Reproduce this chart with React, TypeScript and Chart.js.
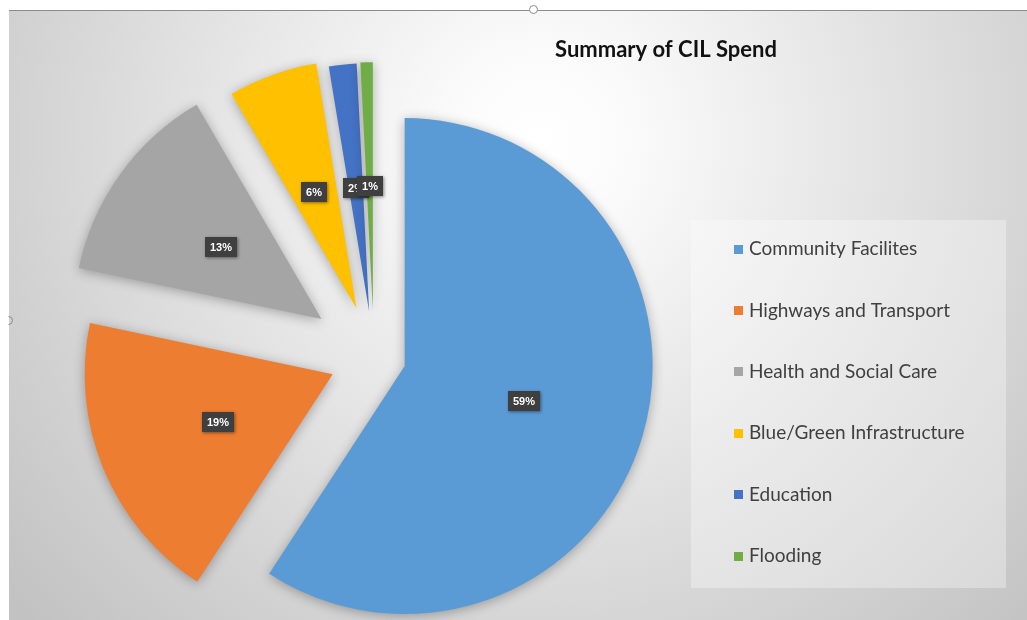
import React, { useEffect, useRef } from 'react';
import { Chart, registerables } from 'chart.js';

Chart.register(...registerables);

// ---- data ----
const categories = [
  'Community Facilites',
  'Highways and Transport',
  'Health and Social Care',
  'Blue/Green Infrastructure',
  'Education',
  'Flooding',
];
const spendShare = [59.2, 19.1, 13.3, 5.8, 1.8, 0.8];
const sliceColors = ['#5B9BD5', '#ED7D31', '#A5A5A5', '#FFC000', '#4472C4', '#70AD47'];
const explodeOffsets = [128, 179, 259, 207, 184, 187];
const chartTitle = 'Summary of CIL Spend';

const RADIUS = 248;

const backdrop = {
  id: 'backdrop',
  beforeDraw(chart: any) {
    const { ctx, width, height } = chart;
    ctx.save();
    ctx.fillStyle = '#ffffff';
    ctx.fillRect(0, 0, width, height);
    const g = ctx.createRadialGradient(540, 140, 0, 540, 140, 700);
    g.addColorStop(0, '#ffffff');
    g.addColorStop(0.12, '#fbfbfb');
    g.addColorStop(1, '#c2c2c2');
    ctx.fillStyle = g;
    ctx.fillRect(9, 10, width - 9, height - 10);
    ctx.strokeStyle = '#8c8c8c';
    ctx.lineWidth = 1;
    ctx.beginPath();
    ctx.moveTo(9, 10.5);
    ctx.lineTo(width, 10.5);
    ctx.stroke();
    // legend panel
    ctx.fillStyle = 'rgba(255,255,255,0.32)';
    ctx.fillRect(691, 220, 315, 368);
    // title
    ctx.fillStyle = '#111111';
    ctx.font = 'bold 22px Lato';
    ctx.textAlign = 'center';
    ctx.textBaseline = 'middle';
    ctx.fillText(chartTitle, 666, 50);
    // legend entries
    ctx.font = '19px Lato';
    ctx.textAlign = 'left';
    categories.forEach((c, i) => {
      const y = 249 + i * 61.4;
      ctx.fillStyle = sliceColors[i];
      ctx.fillRect(734, Math.round(y - 4.5), 9, 9);
      ctx.fillStyle = '#404040';
      ctx.fillText(c, 749, y);
    });
    ctx.restore();
  },
  afterDraw(chart: any) {
    const { ctx } = chart;
    ctx.save();
    ctx.fillStyle = '#ffffff';
    ctx.strokeStyle = '#8c8c8c';
    ctx.lineWidth = 1;
    ctx.beginPath();
    ctx.arc(533.5, 9.5, 4, 0, Math.PI * 2);
    ctx.fill();
    ctx.stroke();
    ctx.beginPath();
    ctx.arc(8.5, 320.5, 4, -Math.PI / 2, Math.PI / 2);
    ctx.stroke();
    ctx.restore();
  },
};

// Apply each slice's explode offset as a pure translation (Excel style),
// keeping every slice at the same radius and full angle.
const explodeSlices = {
  id: 'explodeSlices',
  afterUpdate(chart: any) {
    const meta = chart.getDatasetMeta(0);
    meta.data.forEach((el: any) => {
      const shift = ((el.options && el.options.offset) || 0) / 4;
      const mid = (el.startAngle + el.endAngle) / 2;
      el.x = el.x + Math.cos(mid) * shift;
      el.y = el.y + Math.sin(mid) * shift;
      el.outerRadius = RADIUS;
      el.options = { ...el.options, offset: 0 };
    });
  },
};

const sliceShadow = {
  id: 'sliceShadow',
  beforeDatasetsDraw(chart: any) {
    const ctx = chart.ctx;
    ctx.save();
    ctx.shadowColor = 'rgba(0,0,0,0.3)';
    ctx.shadowBlur = 12;
    ctx.shadowOffsetX = 0;
    ctx.shadowOffsetY = 2;
  },
  afterDatasetsDraw(chart: any) {
    chart.ctx.restore();
  },
};

const pctLabels = {
  id: 'pctLabels',
  afterDatasetsDraw(chart: any) {
    const { ctx } = chart;
    const meta = chart.getDatasetMeta(0);
    const values: number[] = chart.data.datasets[0].data;
    const total = values.reduce((a, b) => a + b, 0);
    ctx.save();
    ctx.font = 'bold 11px "Liberation Sans"';
    ctx.textAlign = 'center';
    ctx.textBaseline = 'middle';
    meta.data.forEach((el: any, i: number) => {
      const mid = (el.startAngle + el.endAngle) / 2;
      const shift = RADIUS * 0.5;
      const x = el.x + Math.cos(mid) * shift;
      const y = el.y + Math.sin(mid) * shift;
      const text = Math.round((values[i] / total) * 100) + '%';
      const w = Math.round(ctx.measureText(text).width + 10);
      const h = 20;
      ctx.shadowColor = 'rgba(0,0,0,0.45)';
      ctx.shadowBlur = 3;
      ctx.shadowOffsetX = 1;
      ctx.shadowOffsetY = 1;
      ctx.fillStyle = '#3f3f3f';
      ctx.fillRect(Math.round(x - w / 2), Math.round(y - h / 2), w, h);
      ctx.shadowColor = 'transparent';
      ctx.shadowBlur = 0;
      ctx.shadowOffsetX = 0;
      ctx.shadowOffsetY = 0;
      ctx.fillStyle = '#ffffff';
      ctx.fillText(text, Math.round(x), Math.round(y) + 0.5);
    });
    ctx.restore();
  },
};

export default function App() {
  const canvasRef = useRef<HTMLCanvasElement | null>(null);

  useEffect(() => {
    if (!canvasRef.current) return;
    const chart = new Chart(canvasRef.current, {
      type: 'pie',
      data: {
        labels: categories,
        datasets: [
          {
            data: spendShare,
            backgroundColor: sliceColors,
            borderWidth: 0,
            offset: explodeOffsets,
            clip: false,
          } as any,
        ],
      },
      options: {
        responsive: false,
        animation: false,
        devicePixelRatio: 1,
        radius: RADIUS,
        layout: { padding: { left: 9, right: 288, top: 94, bottom: 0 } },
        events: [],
        plugins: {
          legend: { display: false },
          title: { display: false },
          tooltip: { enabled: false },
        },
      } as any,
      plugins: [backdrop, explodeSlices, sliceShadow, pctLabels],
    });
    return () => chart.destroy();
  }, []);

  return (
    <div style={{ position: 'fixed', left: 0, top: 0, width: 1027, height: 620, background: '#fff' }}>
      <canvas ref={canvasRef} width={1027} height={620} style={{ display: 'block', width: 1027, height: 620 }} />
    </div>
  );
}
